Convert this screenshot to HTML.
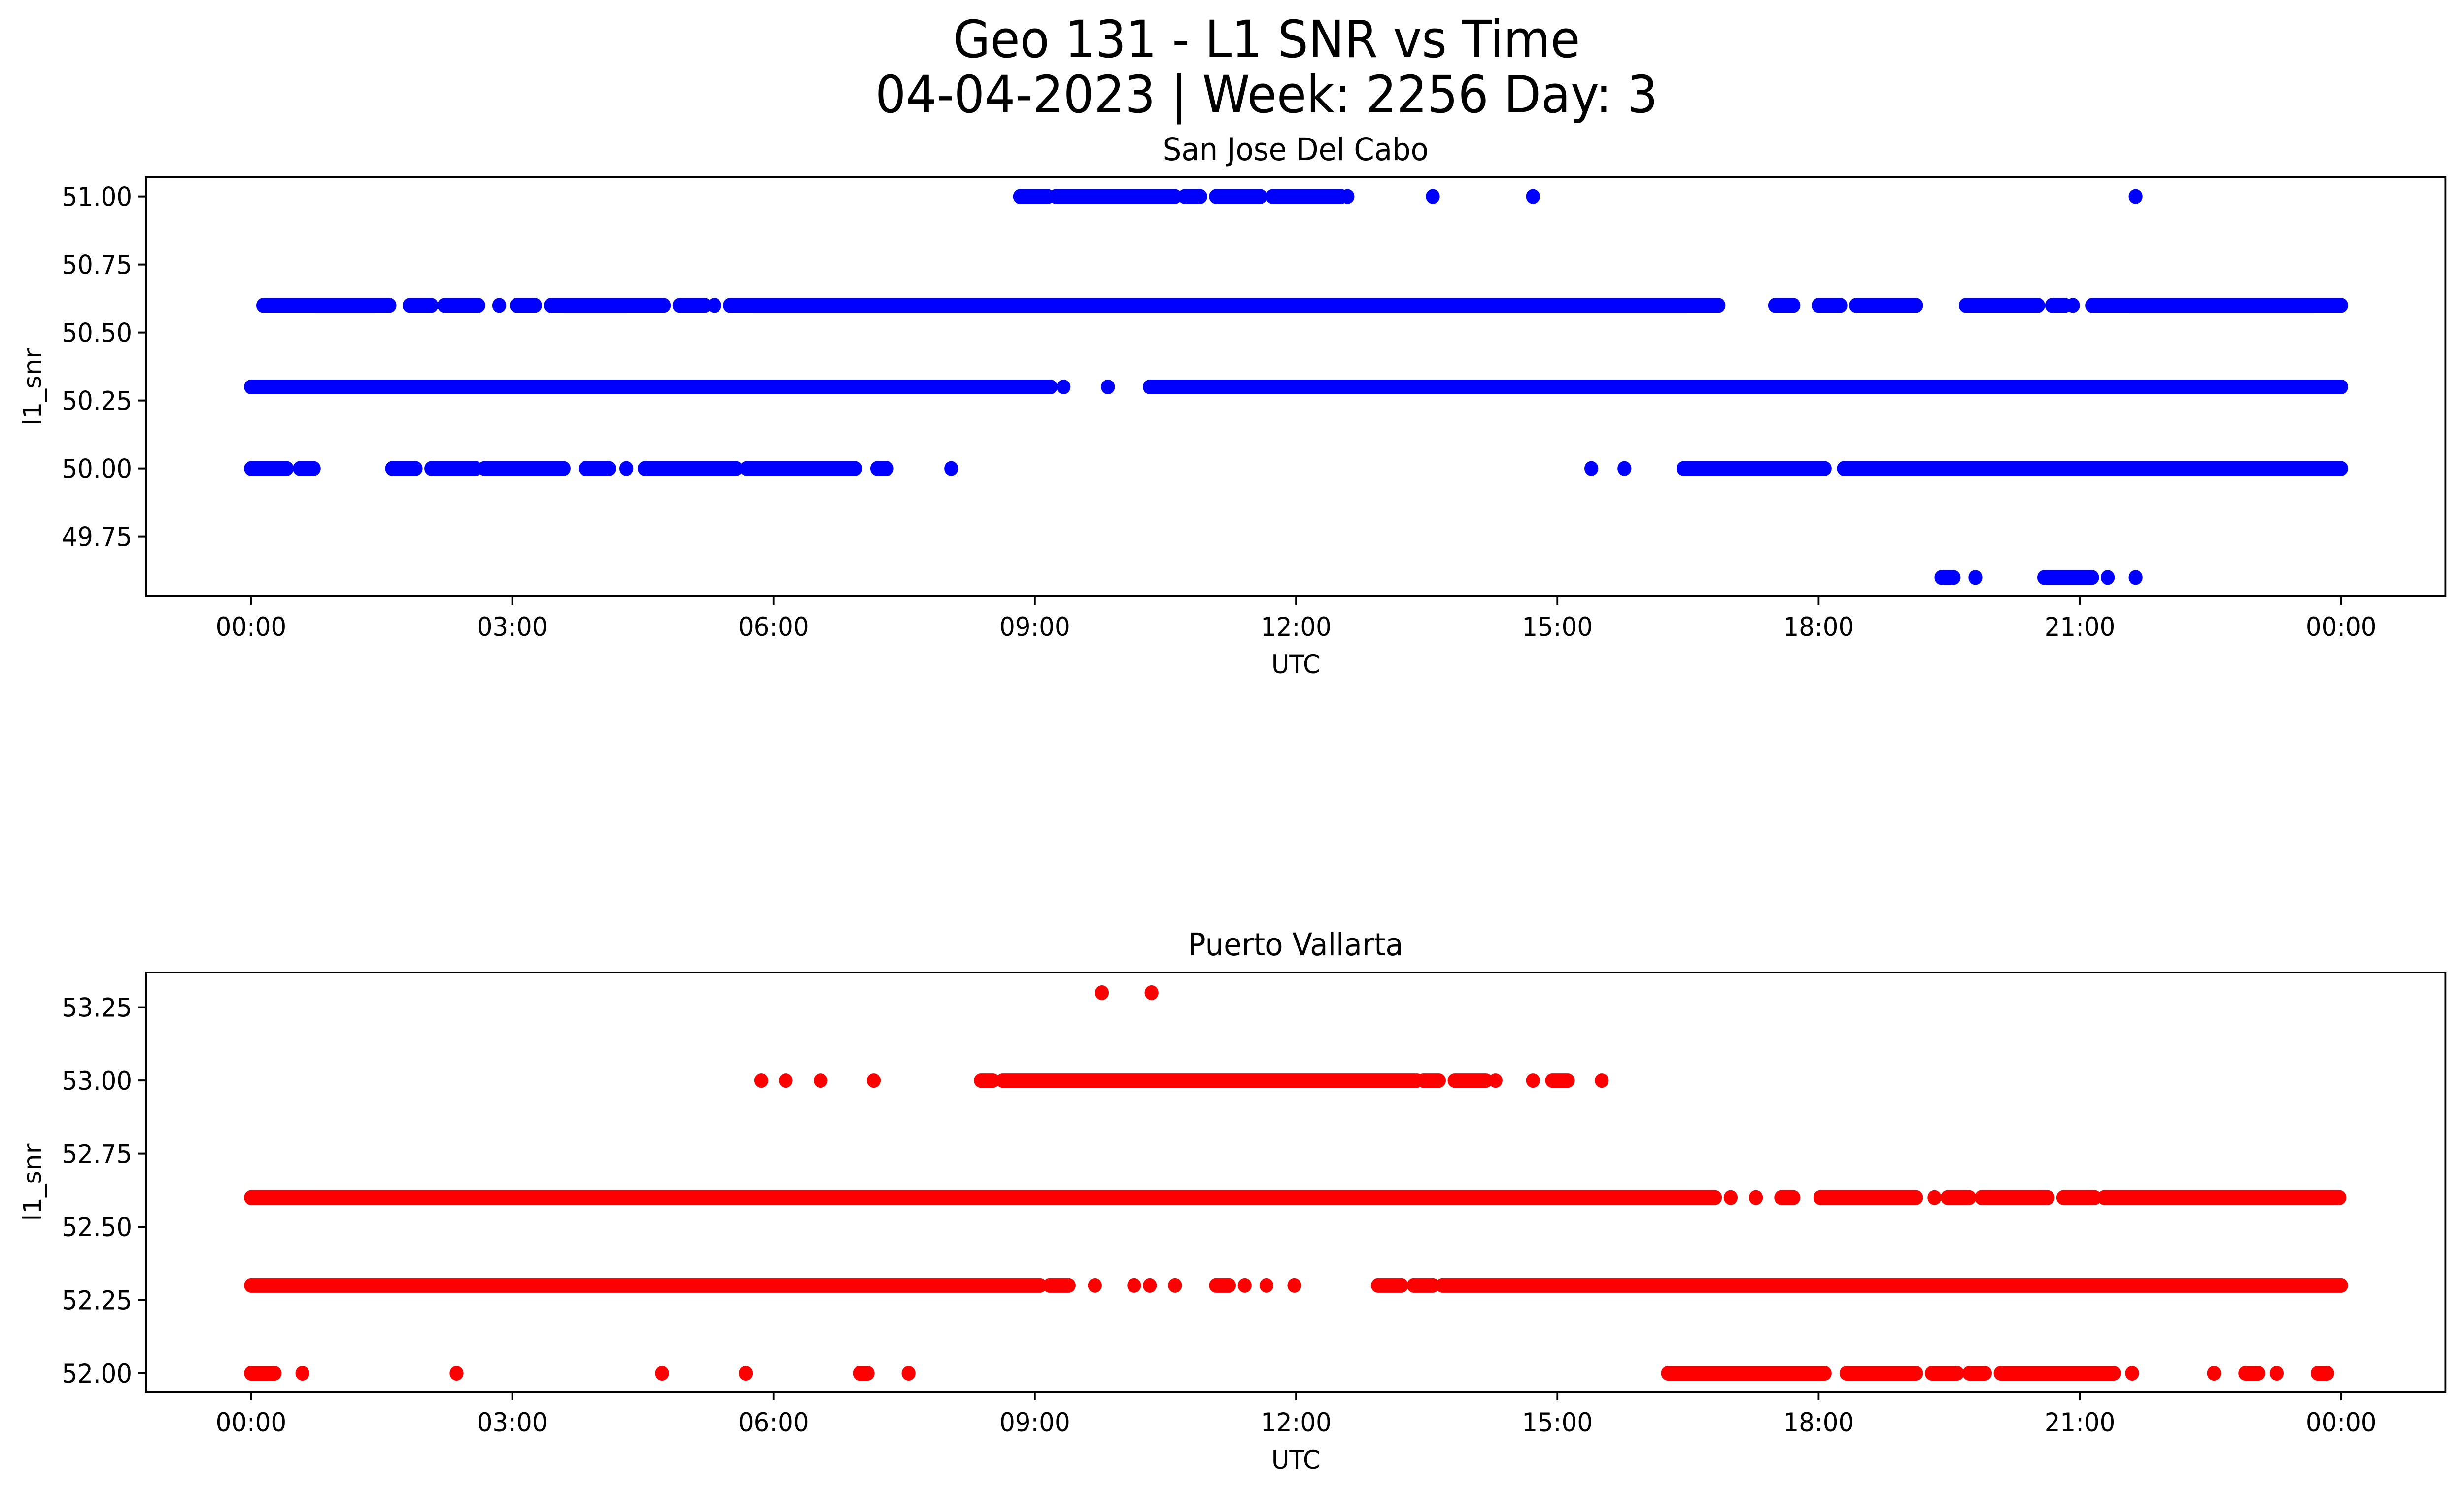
<!DOCTYPE html>
<html><head><meta charset="utf-8"><style>
html,body{margin:0;padding:0;background:#fff;width:100%;height:100%;overflow:hidden;}
svg{display:block;width:100vw;height:100vh;font-family:"DejaVu Sans","Liberation Sans",sans-serif;}
</style></head><body>
<svg id="chart" viewBox="0 0 5315 3033" preserveAspectRatio="none" xmlns="http://www.w3.org/2000/svg">
<rect width="5315" height="3033" fill="#fff"/>
<text x="2732" y="116" font-size="104" text-anchor="middle">Geo 131 - L1 SNR vs Time</text>
<text x="2732" y="228" font-size="104" text-anchor="middle">04-04-2023 | Week: 2256 Day: 3</text>
<g id="p1"></g><g id="p2"></g>
</svg>
<script>
// time ticks (hours) and labels
const xTickHours = [0,3,6,9,12,15,18,21,24];
const xTickLabels = ["00:00","03:00","06:00","09:00","12:00","15:00","18:00","21:00","00:00"];
// Plot 1: San Jose Del Cabo — runs [startHour, endHour] per SNR level
const sjLevels = [51.0, 50.6, 50.3, 50.0, 49.6];
const sjRuns510 = [[8.83,9.15],[9.24,10.61],[10.72,10.9],[11.08,11.59],[11.73,12.52],[12.59,12.59],[13.57,13.57],[14.72,14.72],[21.64,21.64]];
const sjRuns506 = [[0.14,1.59],[1.82,2.07],[2.22,2.61],[2.85,2.85],[3.05,3.26],[3.44,4.74],[4.92,5.21],[5.32,5.32],[5.5,16.85],[17.5,17.71],[18.0,18.25],[18.43,19.12],[19.69,20.52],[20.68,20.83],[20.92,20.92],[21.14,24]];
const sjRuns503 = [[0,9.18],[9.33,9.33],[9.84,9.84],[10.32,24]];
const sjRuns500 = [[0,0.41],[0.56,0.72],[1.62,1.89],[2.07,2.58],[2.68,3.59],[3.84,4.11],[4.31,4.31],[4.52,5.57],[5.69,6.94],[7.19,7.3],[8.04,8.04],[15.39,15.39],[15.77,15.77],[16.45,18.07],[18.29,24]];
const sjRuns496 = [[19.41,19.55],[19.8,19.8],[20.59,21.14],[21.32,21.32],[21.64,21.64]];
const sjYTicks = [49.75,50.0,50.25,50.5,50.75,51.0];
// Plot 2: Puerto Vallarta
const pvLevels = [53.3, 53.0, 52.6, 52.3, 52.0];
const pvRuns533 = [[9.77,9.77],[10.34,10.34]];
const pvRuns530 = [[5.86,5.86],[6.14,6.14],[6.54,6.54],[7.15,7.15],[8.38,8.52],[8.63,13.39],[13.46,13.64],[13.82,14.18],[14.29,14.29],[14.72,14.72],[14.94,15.12],[15.51,15.51]];
const pvRuns526 = [[0,16.81],[16.99,16.99],[17.28,17.28],[17.57,17.71],[18.02,19.12],[19.33,19.33],[19.48,19.73],[19.87,20.63],[20.81,21.17],[21.28,23.98]];
const pvRuns523 = [[0,9.06],[9.17,9.39],[9.69,9.69],[10.14,10.14],[10.32,10.32],[10.61,10.61],[11.08,11.23],[11.41,11.41],[11.66,11.66],[11.98,11.98],[12.94,13.21],[13.35,13.57],[13.68,24]];
const pvRuns520 = [[0,0.27],[0.59,0.59],[2.36,2.36],[4.72,4.72],[5.68,5.68],[6.99,7.08],[7.55,7.55],[16.27,18.07],[18.32,19.12],[19.3,19.59],[19.73,19.91],[20.09,21.39],[21.6,21.6],[22.54,22.54],[22.9,23.05],[23.26,23.26],[23.73,23.84]];
const pvYTicks = [52.0,52.25,52.5,52.75,53.0,53.25];

const NS = "http://www.w3.org/2000/svg";
function mk(tag, attrs, parent){const e=document.createElementNS(NS,tag);for(const k in attrs)e.setAttribute(k,attrs[k]);parent.appendChild(e);return e;}

function drawPanel(g, cfg){
  const L=315,R=5275,T=cfg.top,B=cfg.bottom;
  const x0=541.5, xPerH=(5050-541.5)/24;
  const xs=h=>x0+h*xPerH;
  const ys=v=>B-(v-cfg.ymin)/(cfg.ymax-cfg.ymin)*(B-T);
  cfg.levels.forEach((lv,i)=>{
    cfg.runs[i].forEach(r=>{
      let el;
      if(r[0]===r[1]){
        el=mk("circle",{cx:xs(r[0]),cy:ys(lv),r:15,fill:cfg.color},g);
      } else {
        el=mk("line",{x1:xs(r[0]),x2:xs(r[1]),y1:ys(lv),y2:ys(lv),stroke:cfg.color,"stroke-width":30,"stroke-linecap":"round"},g);
      }
      
      
    });
  });
  const frame=mk("rect",{x:L,y:T,width:R-L,height:B-T,fill:"none",stroke:"#000","stroke-width":4},g);
  
  
  xTickHours.forEach((h,i)=>{
    const t=mk("line",{x1:xs(h),x2:xs(h),y1:B,y2:B+17,stroke:"#000","stroke-width":4},g);
    
    
    const tl=mk("text",{x:xs(h),y:B+80,"font-size":53,"text-anchor":"middle"},g);
    tl.textContent=xTickLabels[i];
    
    
  });
  cfg.yticks.forEach(v=>{
    const t=mk("line",{x1:L-17,x2:L,y1:ys(v),y2:ys(v),stroke:"#000","stroke-width":4},g);
    
    
    const tl=mk("text",{x:L-30,y:ys(v)+19,"font-size":53,"text-anchor":"end"},g);
    tl.textContent=v.toFixed(2);
    
    
  });
  const xt=mk("text",{x:(L+R)/2,y:B+156,"font-size":53,"text-anchor":"middle"},g);
  xt.textContent="UTC";
  
  
  const yc=(T+B)/2;
  const yt=mk("text",{x:0,y:0,"font-size":53,"text-anchor":"middle",transform:`translate(88,${yc}) rotate(-90)`},g);
  yt.textContent="l1_snr";
  
  
  const st=mk("text",{x:(L+R)/2,y:T-35,"font-size":63,"text-anchor":"middle"},g);
  st.textContent=cfg.title;
  
  
}
const g1=document.getElementById("p1");


const g2=document.getElementById("p2");


drawPanel(g1,{top:360,bottom:1210,ymin:49.53,ymax:51.07,color:"#0000ff",levels:sjLevels,runs:[sjRuns510,sjRuns506,sjRuns503,sjRuns500,sjRuns496],yticks:sjYTicks,title:"San Jose Del Cabo"});
drawPanel(g2,{top:1973,bottom:2824,ymin:51.936,ymax:53.369,color:"#ff0000",levels:pvLevels,runs:[pvRuns533,pvRuns530,pvRuns526,pvRuns523,pvRuns520],yticks:pvYTicks,title:"Puerto Vallarta"});
</script>
</body></html>
